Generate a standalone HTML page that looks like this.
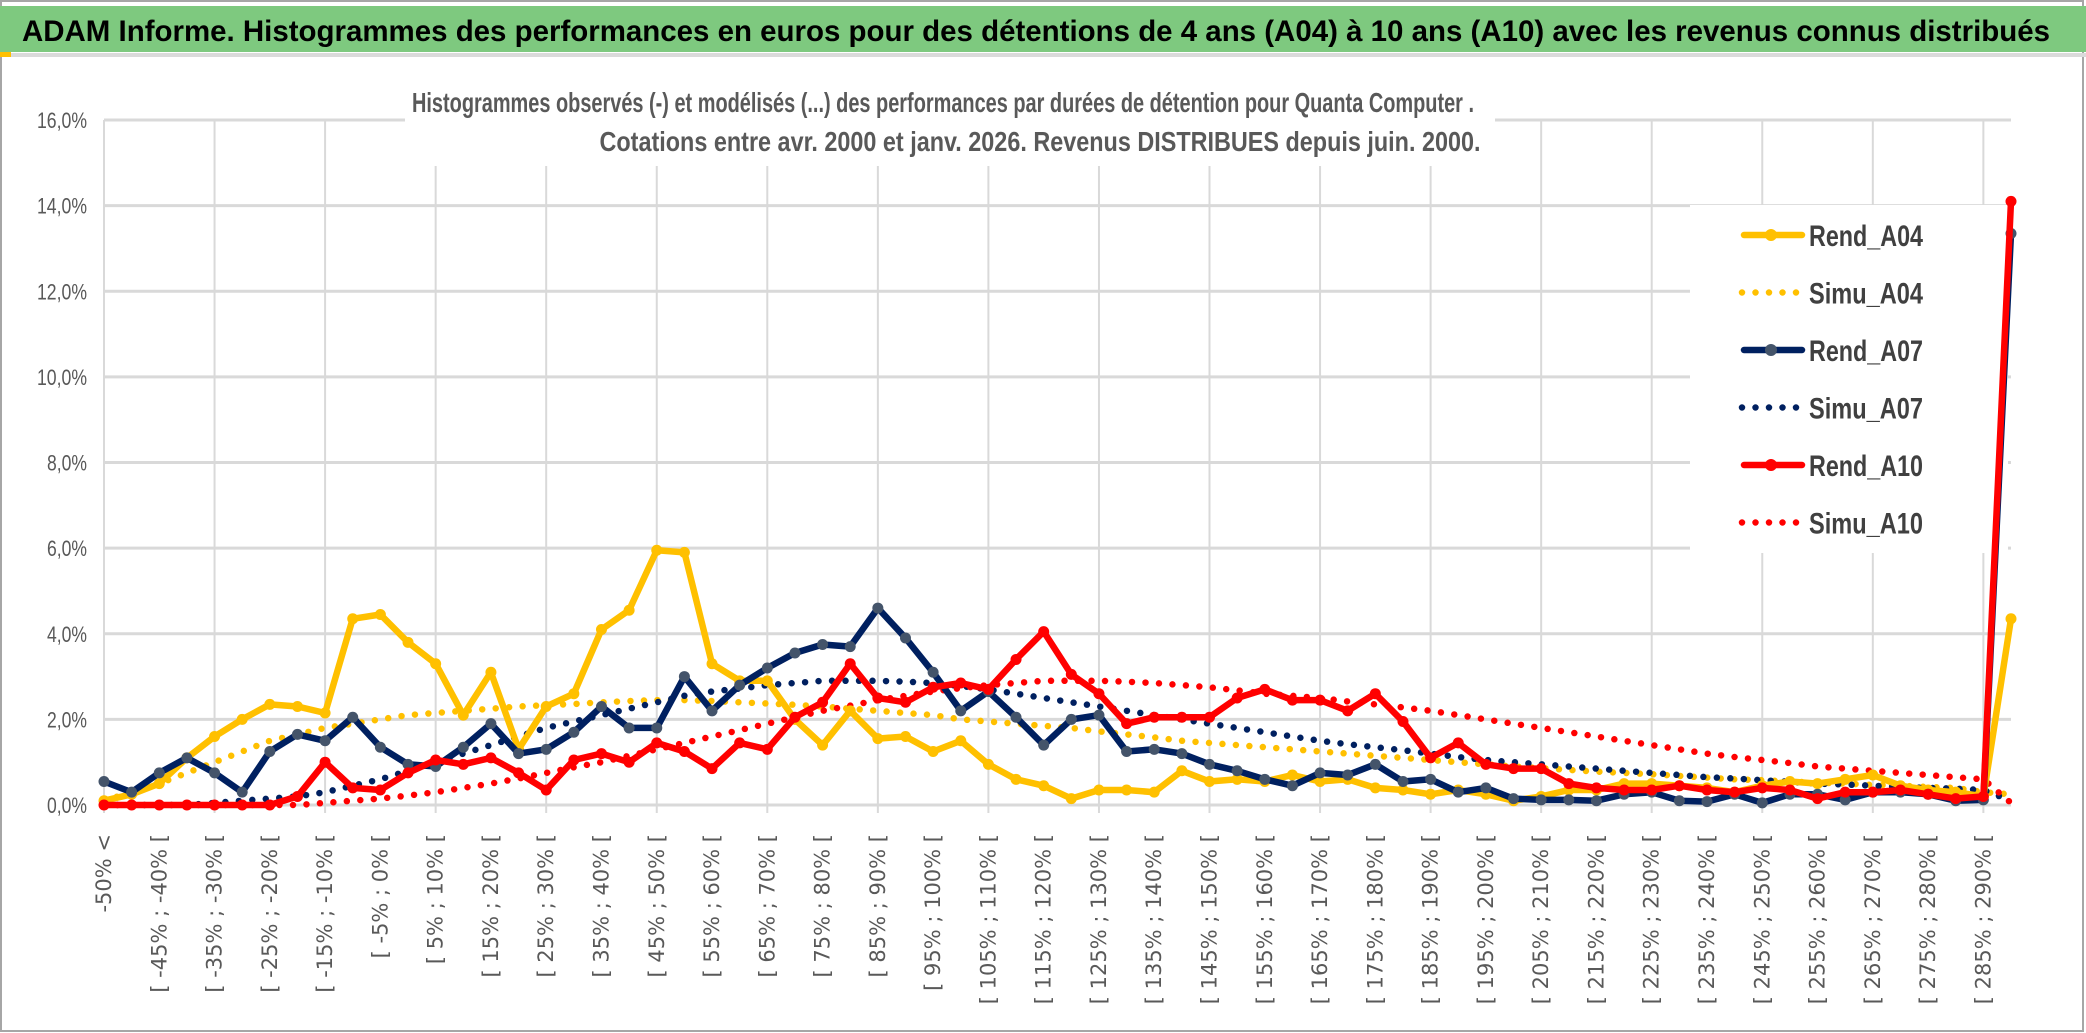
<!DOCTYPE html>
<html><head><meta charset="utf-8"><style>
html,body{margin:0;padding:0;background:#fff;}
svg{display:block;}
</style></head><body>
<svg id="chart" width="2086" height="1033" viewBox="0 0 2086 1033" xmlns="http://www.w3.org/2000/svg" font-family="'Liberation Sans', sans-serif">
<rect x="0" y="0" width="2086" height="1033" fill="#fff"/>
<rect x="1" y="1" width="2082" height="1030" fill="none" stroke="#a6a6a6" stroke-width="2"/>
<rect x="0" y="6" width="2086" height="46" fill="#7EC97F"/>
<rect x="0" y="53" width="2086" height="4" fill="#dadada"/>
<rect x="0" y="52" width="11" height="5" fill="#FFC000"/>
<text x="22" y="41" font-size="30" font-weight="bold" fill="#000" textLength="2028" lengthAdjust="spacingAndGlyphs">ADAM Informe. Histogrammes des performances en euros pour des détentions de 4 ans (A04) à 10 ans (A10) avec les revenus connus distribués</text>
<g id="grid"></g>
<rect x="405" y="80" width="1090" height="86" fill="#fff"/>
<text x="943" y="112" font-size="28" font-weight="bold" fill="#595959" text-anchor="middle" textLength="1062" lengthAdjust="spacingAndGlyphs">Histogrammes observés (-) et modélisés (...) des performances par durées de détention pour Quanta Computer .</text>
<text x="1040" y="151" font-size="28" font-weight="bold" fill="#595959" text-anchor="middle" textLength="881" lengthAdjust="spacingAndGlyphs">Cotations entre avr. 2000 et janv. 2026. Revenus DISTRIBUES depuis juin. 2000.</text>
<g id="yaxis"></g>
<g id="xaxis"></g>
<rect x="1690" y="205" width="318" height="348" fill="#fff"/>
<g id="series"></g>
<g id="legend"></g>
</svg>
<script>
const rendA04 = [0.1,0.25,0.5,1.1,1.6,2.0,2.35,2.3,2.15,4.35,4.45,3.8,3.3,2.1,3.1,1.3,2.3,2.6,4.1,4.55,5.95,5.9,3.3,2.9,2.9,2.0,1.4,2.2,1.55,1.6,1.25,1.5,0.95,0.6,0.45,0.15,0.35,0.35,0.3,0.8,0.55,0.6,0.55,0.7,0.55,0.6,0.4,0.35,0.25,0.35,0.25,0.1,0.2,0.35,0.35,0.5,0.5,0.45,0.4,0.3,0.45,0.55,0.5,0.6,0.7,0.45,0.35,0.3,0.2,4.35];
const simuA04 = [0.1,0.3,0.5,0.75,1.0,1.25,1.5,1.65,1.8,1.9,2.0,2.1,2.15,2.2,2.25,2.3,2.33,2.36,2.4,2.43,2.45,2.45,2.43,2.4,2.37,2.34,2.3,2.25,2.2,2.15,2.1,2.0,1.95,1.9,1.85,1.8,1.72,1.65,1.58,1.5,1.45,1.4,1.35,1.3,1.25,1.2,1.15,1.1,1.05,1.0,0.95,0.9,0.86,0.82,0.78,0.75,0.72,0.68,0.64,0.6,0.58,0.55,0.52,0.5,0.47,0.45,0.42,0.4,0.3,0.25];
const rendA07 = [0.55,0.3,0.75,1.1,0.75,0.3,1.25,1.65,1.5,2.05,1.35,0.95,0.9,1.35,1.9,1.2,1.3,1.7,2.3,1.8,1.8,3.0,2.2,2.8,3.2,3.55,3.75,3.7,4.6,3.9,3.1,2.2,2.65,2.05,1.4,2.0,2.1,1.25,1.3,1.2,0.95,0.8,0.6,0.45,0.75,0.7,0.95,0.55,0.6,0.3,0.4,0.15,0.12,0.12,0.1,0.25,0.3,0.1,0.08,0.25,0.05,0.25,0.25,0.12,0.3,0.3,0.25,0.1,0.12,13.35];
const simuA07 = [0,0,0,0,0.05,0.1,0.15,0.2,0.3,0.45,0.6,0.8,1.0,1.2,1.4,1.6,1.8,1.95,2.1,2.25,2.4,2.55,2.65,2.72,2.8,2.85,2.9,2.9,2.9,2.88,2.85,2.78,2.7,2.6,2.5,2.4,2.3,2.2,2.1,2.0,1.9,1.8,1.7,1.6,1.5,1.42,1.35,1.28,1.2,1.12,1.05,1.0,0.95,0.9,0.85,0.8,0.75,0.7,0.65,0.62,0.58,0.54,0.5,0.48,0.45,0.42,0.4,0.38,0.35,0.1];
const rendA10 = [0,0,0,0,0,0,0,0.2,1.0,0.4,0.35,0.75,1.05,0.95,1.1,0.75,0.35,1.05,1.2,1.0,1.45,1.25,0.85,1.45,1.3,2.05,2.4,3.3,2.5,2.4,2.75,2.85,2.7,3.4,4.05,3.05,2.6,1.9,2.05,2.05,2.05,2.5,2.7,2.45,2.45,2.2,2.6,1.95,1.1,1.45,0.95,0.85,0.85,0.5,0.4,0.35,0.35,0.45,0.35,0.3,0.4,0.35,0.15,0.3,0.3,0.35,0.25,0.15,0.2,14.1];
const simuA10 = [0,0,0,0,0,0,0,0,0.05,0.1,0.15,0.22,0.3,0.4,0.5,0.62,0.75,0.88,1.0,1.15,1.3,1.45,1.6,1.75,1.9,2.05,2.2,2.32,2.45,2.55,2.65,2.73,2.8,2.85,2.9,2.9,2.9,2.88,2.85,2.8,2.75,2.68,2.6,2.55,2.5,2.42,2.35,2.28,2.2,2.1,2.0,1.9,1.8,1.7,1.6,1.5,1.4,1.3,1.2,1.12,1.05,0.98,0.9,0.85,0.8,0.75,0.7,0.65,0.6,0.05];
const yTicks = [0,2,4,6,8,10,12,14,16];
const yTickLabels = ["0,0%","2,0%","4,0%","6,0%","8,0%","10,0%","12,0%","14,0%","16,0%"];
const N = 70;
const cats = [];
for (let i = 0; i < N; i++) {
  if (i === 0) cats.push("-50% <");
  else if (i === N - 1) cats.push("> 290%");
  else { const lo = -50 + 5 * (i - 1); cats.push("[ " + lo + "% ; " + (lo + 5) + "% ["); }
}
const NS = "http://www.w3.org/2000/svg";
const X0 = 104, X1 = 2011, Y0 = 805, Y16 = 120;
const xs = i => X0 + (X1 - X0) * i / (N - 1);
const ys = v => Y0 - (Y0 - Y16) * v / 16;
function mk(tag, attrs, parent) { const e = document.createElementNS(NS, tag); for (const k in attrs) e.setAttribute(k, attrs[k]); parent.appendChild(e); return e; }
const grid = document.getElementById('grid');
yTicks.forEach(v => { const l = mk('line', {x1: X0, x2: X1, y1: ys(v), y2: ys(v), stroke: '#d9d9d9', 'stroke-width': 3}, grid);
  
   });
for (let i = 0; i < N; i += 4) { const l = mk('line', {x1: xs(i), x2: xs(i), y1: Y16, y2: Y0 + 8, stroke: '#d9d9d9', 'stroke-width': 2}, grid);
  
   }
const ya = document.getElementById('yaxis');
yTicks.forEach((v, k) => { const t = mk('text', {x: 87, y: ys(v) + 8, 'font-size': 22, fill: '#595959', 'text-anchor': 'end'}, ya);
  
  
  t.textContent = yTickLabels[k];
  t.setAttribute('textLength', yTickLabels[k].length * 10);
  t.setAttribute('lengthAdjust', 'spacingAndGlyphs'); });
const xa = document.getElementById('xaxis');
for (let i = 0; i < N - 1; i += 2) { const x = xs(i) + 7, y = 834;
  const t = mk('text', {x: x, y: y, 'font-size': 21, fill: '#595959', 'text-anchor': 'end', 'font-family': "'DejaVu Sans', sans-serif", transform: 'rotate(-90 ' + x + ' ' + y + ')'}, xa);
  
  
  t.textContent = cats[i]; }
const ser = document.getElementById('series');
function pts(arr) { return arr.map((v, i) => xs(i).toFixed(1) + ',' + ys(v).toFixed(1)).join(' '); }
function dotted(arr, color, name) { const p = mk('polyline', {points: pts(arr), fill: 'none', stroke: color, 'stroke-width': 6.5, 'stroke-linecap': 'round', 'stroke-dasharray': '0 13.5'}, ser);
  
   }
function solid(arr, color, mcolor, name) { const p = mk('polyline', {points: pts(arr), fill: 'none', stroke: color, 'stroke-width': 6.5, 'stroke-linejoin': 'round'}, ser);
  
  
  arr.forEach((v, i) => { const c = mk('circle', {cx: xs(i), cy: ys(v), r: 5.5, fill: mcolor}, ser);
    
     }); }
dotted(simuA04, '#FFC000', 'simu-a04-line');
dotted(simuA07, '#002060', 'simu-a07-line');
dotted(simuA10, '#FF0000', 'simu-a10-line');
solid(rendA04, '#FFC000', '#FFC000', 'rend-a04-line');
solid(rendA07, '#002060', '#44546A', 'rend-a07-line');
solid(rendA10, '#FF0000', '#FF0000', 'rend-a10-line');
const lg = document.getElementById('legend');
const legendItems = [["Rend_A04", '#FFC000', '#FFC000', false], ["Simu_A04", '#FFC000', '', true], ["Rend_A07", '#002060', '#44546A', false], ["Simu_A07", '#002060', '', true], ["Rend_A10", '#FF0000', '#FF0000', false], ["Simu_A10", '#FF0000', '', true]];
legendItems.forEach((it, k) => { const y = 235 + k * 57.5;
  const g = mk('g', {}, lg);
  
  
  if (it[3]) { mk('line', {x1: 1742, x2: 1802, y1: y, y2: y, stroke: it[1], 'stroke-width': 6.5, 'stroke-linecap': 'round', 'stroke-dasharray': '0 13.5'}, g); }
  else { mk('line', {x1: 1744, x2: 1802, y1: y, y2: y, stroke: it[1], 'stroke-width': 6.5, 'stroke-linecap': 'round'}, g); mk('circle', {cx: 1771, cy: y, r: 6, fill: it[2]}, g); }
  const t = mk('text', {x: 1809, y: y + 11, 'font-size': 30, 'font-weight': 'bold', fill: '#404040', textLength: 114, lengthAdjust: 'spacingAndGlyphs'}, g);
  t.textContent = it[0]; });
</script>
</body></html>
